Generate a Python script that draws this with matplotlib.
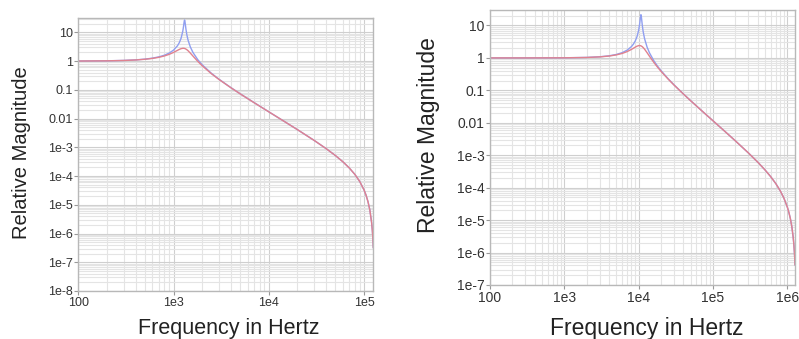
import matplotlib
matplotlib.use("Agg")
import matplotlib.pyplot as plt
from matplotlib.ticker import FixedLocator, LogLocator, NullFormatter

plt.rcParams['font.family'] = ['Liberation Sans', 'DejaVu Sans']

# ---- low-rate filter (left panel) ----
freq_a = [100, 200, 300, 400, 500, 600, 700, 800, 900, 1000, 1100, 1150, 1200,
          1250, 1270, 1285, 1300, 1306, 1315, 1330, 1350, 1380, 1420, 1500, 1600,
          1800, 2000, 2500, 3000, 4000, 5000, 7000, 1e4, 1.5e4, 2e4, 3e4, 4e4,
          5e4, 6e4, 7e4, 8e4, 9e4, 1e5, 1.05e5, 1.1e5, 1.15e5, 1.2e5, 1.22e5,
          1.235e5, 1.245e5, 1.25e5]
mag_a_high_q = [1.006, 1.024, 1.056, 1.103, 1.172, 1.267, 1.403, 1.600, 1.902,
                2.412, 3.422, 4.406, 6.273, 10.98, 15.33, 20.65, 26.33, 27.0,
                25.14, 18.90, 12.74, 8.135, 5.359, 3.106, 1.988, 1.110, 0.7428,
                0.3752, 0.2338, 0.1193, 0.0731, 0.0361, 0.01718, 0.00746,
                0.00411, 0.00173, 8.99e-4, 5.18e-4, 3.13e-4, 1.91e-4, 1.145e-4,
                6.49e-5, 3.27e-5, 2.15e-5, 1.28e-5, 6.56e-6, 2.43e-6, 1.35e-6,
                7.5e-7, 4.47e-7, 3.25e-7]
mag_a_low_q = [1.006, 1.022, 1.052, 1.095, 1.157, 1.240, 1.353, 1.508, 1.719,
               2.005, 2.369, 2.557, 2.713, 2.793, 2.795, 2.784, 2.762, 2.750,
               2.729, 2.687, 2.617, 2.491, 2.297, 1.902, 1.492, 0.971, 0.687,
               0.363, 0.2295, 0.1183, 0.0727, 0.0358, 0.01716, 0.00746,
               0.00411, 0.00173, 8.99e-4, 5.18e-4, 3.13e-4, 1.91e-4, 1.145e-4,
               6.49e-5, 3.27e-5, 2.15e-5, 1.28e-5, 6.56e-6, 2.43e-6, 1.35e-6,
               7.5e-7, 4.47e-7, 3.25e-7]

# ---- high-rate filter (right panel) ----
freq_b = [100, 300, 1000, 2000, 3000, 4000, 5000, 6000, 7000, 8000, 8500, 9000,
          9500, 10000, 10300, 10500, 10650, 10740, 10850, 11000, 11200, 11500,
          12000, 13000, 14000, 16000, 18000, 20000, 25000, 30000, 40000, 50000,
          70000, 1e5, 1.5e5, 2e5, 3e5, 4e5, 5e5, 6e5, 7e5, 8e5, 9e5, 1e6,
          1.05e6, 1.1e6, 1.15e6, 1.2e6, 1.23e6, 1.25e6, 1.26e6, 1.27e6]
mag_b_high_q = [1.000, 1.001, 1.009, 1.036, 1.085, 1.161, 1.276, 1.453, 1.736,
                2.240, 2.664, 3.330, 4.516, 7.147, 10.89, 15.77, 20.39, 21.5,
                19.49, 14.63, 9.996, 6.461, 3.941, 2.134, 1.425, 0.8188, 0.5523,
                0.4050, 0.2263, 0.1470, 0.0776, 0.0483, 0.02400, 0.01156,
                5.04e-3, 2.782e-3, 1.174e-3, 6.14e-4, 3.555e-4, 2.165e-4,
                1.339e-4, 8.18e-5, 4.78e-5, 2.54e-5, 1.741e-5, 1.113e-5,
                6.38e-6, 3.01e-6, 1.61e-6, 9.16e-7, 6.44e-7, 4.2e-7]
mag_b_low_q = [1.000, 1.001, 1.008, 1.032, 1.076, 1.142, 1.238, 1.374, 1.566,
               1.830, 1.988, 2.153, 2.300, 2.393, 2.404, 2.390, 2.368, 2.350,
               2.324, 2.280, 2.211, 2.089, 1.864, 1.441, 1.120, 0.7276, 0.5143,
               0.3858, 0.2208, 0.1448, 0.0770, 0.0480, 0.02394, 0.01155,
               5.04e-3, 2.782e-3, 1.174e-3, 6.14e-4, 3.555e-4, 2.165e-4,
               1.339e-4, 8.18e-5, 4.78e-5, 2.54e-5, 1.741e-5, 1.113e-5,
               6.38e-6, 3.01e-6, 1.61e-6, 9.16e-7, 6.44e-7, 4.2e-7]

x_ticks_a = [1e2, 1e3, 1e4, 1e5]
x_labels_a = ["100", "1e3", "1e4", "1e5"]
y_ticks_a = [1e-8, 1e-7, 1e-6, 1e-5, 1e-4, 1e-3, 1e-2, 1e-1, 1, 10]
y_labels_a = ["1e-8", "1e-7", "1e-6", "1e-5", "1e-4", "1e-3", "0.01", "0.1", "1", "10"]

x_ticks_b = [1e2, 1e3, 1e4, 1e5, 1e6]
x_labels_b = ["100", "1e3", "1e4", "1e5", "1e6"]
y_ticks_b = [1e-7, 1e-6, 1e-5, 1e-4, 1e-3, 1e-2, 1e-1, 1, 10]
y_labels_b = ["1e-7", "1e-6", "1e-5", "1e-4", "1e-3", "0.01", "0.1", "1", "10"]

BLUE = "#909ff0"
RED = "#e0828f"
FRAME = "#b8b8b8"
TEXT = "#222222"

fig = plt.figure(figsize=(7.99, 3.39), dpi=100)


def style_axes(ax, xlim, ylim, xt, xl, yt, yl, fs):
    ax.set_xscale("log")
    ax.set_yscale("log")
    ax.set_xlim(*xlim)
    ax.set_ylim(*ylim)
    ax.xaxis.set_major_locator(FixedLocator(xt))
    ax.set_xticklabels(xl)
    ax.yaxis.set_major_locator(FixedLocator(yt))
    ax.set_yticklabels(yl)
    ax.xaxis.set_minor_locator(LogLocator(base=10, subs=range(2, 10), numticks=20))
    ax.yaxis.set_minor_locator(LogLocator(base=10, subs=range(2, 10), numticks=20))
    ax.xaxis.set_minor_formatter(NullFormatter())
    ax.yaxis.set_minor_formatter(NullFormatter())
    ax.grid(True, which="major", color="#cfcfcf", linewidth=0.8)
    ax.grid(True, which="minor", color="#e4e4e4", linewidth=0.8)
    ax.set_axisbelow(True)
    for s in ax.spines.values():
        s.set_color(FRAME)
        s.set_linewidth(1.0)
    ax.tick_params(which="major", direction="out", length=3, width=0.8,
                   color="#999999", labelsize=fs, labelcolor="#333333", pad=1)
    ax.tick_params(which="minor", length=0)


ax1 = fig.add_axes([0.098, 0.1416, 0.3692, 0.8053])
ax1.plot(freq_a, mag_a_high_q, color=BLUE, linewidth=1.0)
ax1.plot(freq_a, mag_a_low_q, color=RED, linewidth=1.0)
style_axes(ax1, (100, 1.25e5), (1e-8, 10 ** 1.5), x_ticks_a, x_labels_a,
           y_ticks_a, y_labels_a, 9)

ax2 = fig.add_axes([0.6133, 0.1593, 0.3817, 0.8112])
ax2.plot(freq_b, mag_b_high_q, color=BLUE, linewidth=1.0)
ax2.plot(freq_b, mag_b_low_q, color=RED, linewidth=1.0)
style_axes(ax2, (100, 1.27e6), (1e-7, 30), x_ticks_b, x_labels_b,
           y_ticks_b, y_labels_b, 10)

fig.text(21.7 / 799, 1 - 152.5 / 339, "Relative Magnitude", rotation=90,
         ha="center", va="center", fontsize=14.5, color=TEXT)
fig.text(228.8 / 799, 1 - 334 / 339, "Frequency in Hertz",
         ha="center", va="baseline", fontsize=15.5, color=TEXT)
fig.text(428 / 799, 1 - 135 / 339, "Relative Magnitude", rotation=90,
         ha="center", va="center", fontsize=16.5, color=TEXT)
fig.text(647 / 799, 1 - 335 / 339, "Frequency in Hertz",
         ha="center", va="baseline", fontsize=16.5, color=TEXT)

fig.savefig("out.png", dpi=100)
